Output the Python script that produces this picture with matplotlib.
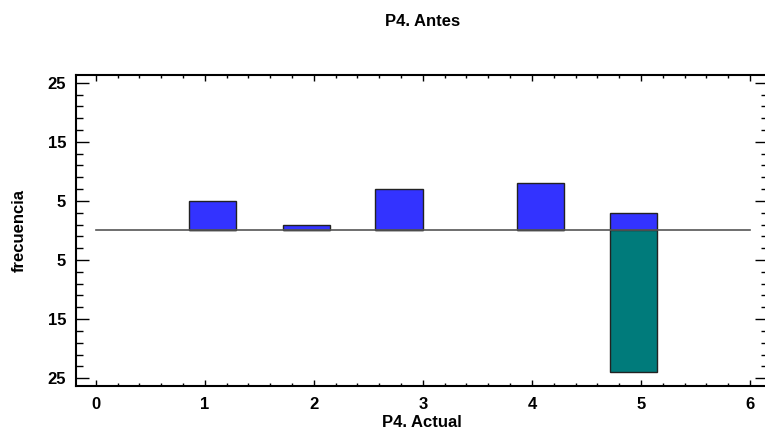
import numpy as np
import matplotlib
matplotlib.use('Agg')
import matplotlib.pyplot as plt
from matplotlib.ticker import FixedLocator, MultipleLocator, FuncFormatter

# histogram bins (centres) and counts
bin_centers = [1.07, 1.93, 2.78, 4.08, 4.93]
count_actual = [5, 1, 7, 8, 3]
count_antes = [0, 0, 0, 0, 24]

plt.rcParams['font.family'] = ['Liberation Sans', 'DejaVu Sans']
plt.rcParams['font.weight'] = 'bold'

fig = plt.figure(figsize=(7.65, 4.34), dpi=100)
ax = fig.add_axes([0.099, 0.111, 0.905, 0.716])

width = 0.435
ax.bar(bin_centers, count_actual, width=width, color='#3333FF',
       edgecolor='#222222', linewidth=1.0, zorder=2)
ax.bar(bin_centers, [-c for c in count_antes], width=width, color='#007B7B',
       edgecolor='#222222', linewidth=1.0, zorder=2)
ax.plot([0, 6], [0, 0], color='#555555', linewidth=1.2, zorder=3)

ax.set_xlim(-0.184, 6.166)
ax.set_ylim(-26.3, 26.3)

ax.xaxis.set_major_locator(MultipleLocator(1))
ax.xaxis.set_minor_locator(MultipleLocator(0.2))
ax.yaxis.set_major_locator(FixedLocator([-25, -15, -5, 5, 15, 25]))
ax.yaxis.set_minor_locator(FixedLocator(np.arange(-25, 26, 2)))
ax.yaxis.set_major_formatter(FuncFormatter(lambda v, p: f'{abs(v):.0f}'))

ax.tick_params(axis='x', which='major', direction='in', length=4.5, width=1,
               top=True, labelsize=12, pad=8)
ax.tick_params(axis='x', which='minor', direction='in', length=2.5, width=1, top=True)
ax.tick_params(axis='y', which='major', direction='in', length=9.5, width=1,
               right=True, labelsize=12, pad=7)
ax.tick_params(axis='y', which='minor', direction='in', length=5, width=1, right=True)
for s in ax.spines.values():
    s.set_linewidth(1.5)

ax.set_xlabel('P4. Actual', fontsize=12, fontweight='bold', labelpad=2)
ax.set_ylabel('frecuencia', fontsize=12, fontweight='bold', labelpad=15)
fig.suptitle('P4. Antes', fontsize=12, fontweight='bold', x=0.552, y=0.968)

fig.savefig('out.png', dpi=100)
